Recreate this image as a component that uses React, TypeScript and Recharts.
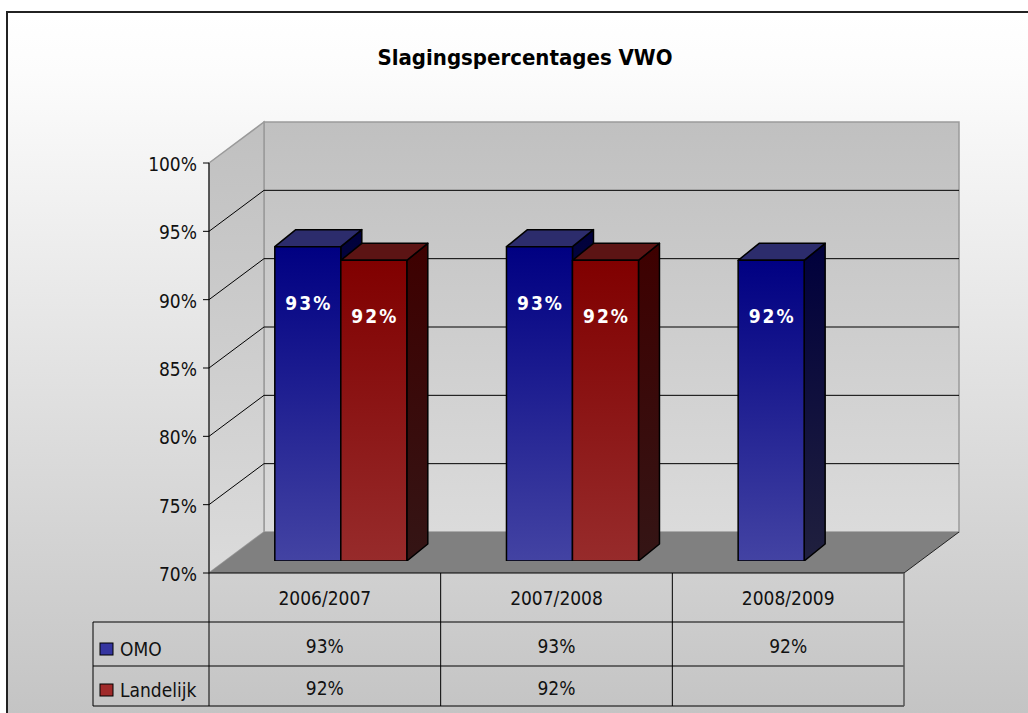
import React from 'react';
import { BarChart, Bar, XAxis, YAxis, ReferenceArea, LabelList } from 'recharts';

const categories = ['2006/2007', '2007/2008', '2008/2009'];
const omo: (number | null)[] = [93, 93, 92];
const landelijk: (number | null)[] = [92, 92, null];
const seriesNames = ['OMO', 'Landelijk'];
const yTicks = [70, 75, 80, 85, 90, 95, 100];
const title = 'Slagingspercentages VWO';

const data = categories.map((cat, i) => ({ cat, omo: omo[i], landelijk: landelijk[i] }));

const W = 1028;
const H = 713;
// plot area = plane in which the bar fronts stand
const MARGIN = { top: 151, right: 108, bottom: 152, left: 225 };
const PLOT_L = MARGIN.left;
const PLOT_R = W - MARGIN.right;
// 3d offsets, relative to the bar plane
const FRONT = { dx: -16, dy: 12 };
const BACK = { dx: 39, dy: -29 };
const DEPTH = { dx: 21, dy: -17 };
// data table rows
const TABLE = { row1: 622, row2: 666, bottom: 706, legendX: 93 };
const FONT = "'DejaVu Sans Condensed', 'DejaVu Sans', sans-serif";

const BLUE = { id: 'b', front: ['#000082', '#4343a3'], side: ['#00003c', '#20203e'], top: '#2c2c6c' };
const RED = { id: 'r', front: ['#800000', '#972b2b'], side: ['#3e0000', '#341515'], top: '#5c1414' };

const Walls = (p: any) => {
  const { x, y, width, height } = p;
  const fx0 = x + FRONT.dx, fx1 = x + width + FRONT.dx;
  const fyT = y + FRONT.dy, fyB = y + height + FRONT.dy;
  const bx0 = x + BACK.dx, bx1 = x + width + BACK.dx;
  const byT = y + BACK.dy, byB = y + height + BACK.dy;
  const colW = width / categories.length;
  return (
    <g>
      <defs>
        <linearGradient id="wallGrad" x1="0" y1="0" x2="0" y2="1">
          <stop offset="0%" stopColor="#c0c0c0" />
          <stop offset="100%" stopColor="#dbdbdb" />
        </linearGradient>
      </defs>
      <polygon points={`${bx0},${byT} ${bx1},${byT} ${bx1},${byB} ${bx0},${byB}`} fill="url(#wallGrad)" stroke="#9a9a9a" strokeWidth={1.5} />
      <polygon points={`${fx0},${fyT} ${bx0},${byT} ${bx0},${byB} ${fx0},${fyB}`} fill="url(#wallGrad)" stroke="#9a9a9a" strokeWidth={1.5} />
      <polygon points={`${fx0},${fyB} ${bx0},${byB} ${bx1},${byB} ${fx1},${fyB}`} fill="#808080" />
      <line x1={fx1} y1={fyB} x2={bx1} y2={byB} stroke="#222" />
      {/* value axis */}
      <line x1={fx0} y1={fyT} x2={fx0} y2={TABLE.bottom} stroke="#000" />
      {/* data table */}
      <line x1={fx0} y1={fyB} x2={fx1} y2={fyB} stroke="#000" />
      {[TABLE.row1, TABLE.row2, TABLE.bottom].map((ry) => (
        <line key={ry} x1={TABLE.legendX} y1={ry} x2={fx1} y2={ry} stroke="#000" />
      ))}
      <line x1={TABLE.legendX} y1={TABLE.row1} x2={TABLE.legendX} y2={TABLE.bottom} stroke="#000" />
      {categories.map((c, i) => (
        <line key={c} x1={fx0 + colW * (i + 1)} y1={fyB} x2={fx0 + colW * (i + 1)} y2={TABLE.bottom}
          stroke={i === categories.length - 1 ? '#555' : '#000'} strokeWidth={i === categories.length - 1 ? 1.5 : 1} />
      ))}
      {/* legend keys */}
      <rect x={100} y={643} width={13} height={12} fill="#3535a0" stroke="#000" />
      <text x={120} y={656} fontFamily={FONT} fontSize={19} fill="#111">{seriesNames[0]}</text>
      <rect x={100} y={684} width={13} height={12} fill="#a02a2a" stroke="#000" />
      <text x={120} y={697} fontFamily={FONT} fontSize={19} fill="#111">{seriesNames[1]}</text>
    </g>
  );
};

const YTick = (p: any) => {
  const { y, payload } = p;
  const v = payload.value;
  const fx = PLOT_L + FRONT.dx, fy = y + FRONT.dy;
  const bx0 = PLOT_L + BACK.dx, bx1 = PLOT_R + BACK.dx, by = y + BACK.dy;
  const inner = v !== yTicks[0] && v !== yTicks[yTicks.length - 1];
  return (
    <g>
      {inner && <line x1={fx} y1={fy} x2={bx0} y2={by} stroke="#000" />}
      {inner && <line x1={bx0} y1={by} x2={bx1} y2={by} stroke="#000" />}
      <line x1={fx - 6} y1={fy} x2={fx} y2={fy} stroke="#000" />
      <text x={fx - 12} y={fy + 8} textAnchor="end" fontFamily={FONT} fontSize={19} fill="#111">{`${v}%`}</text>
    </g>
  );
};

const TableTick = (p: any) => {
  const { x, payload } = p;
  const i = categories.indexOf(payload.value);
  const cx = x + FRONT.dx;
  const t = (val: number | null) => (val == null ? '' : `${val}%`);
  return (
    <g fontFamily={FONT} fontSize={19} fill="#111" textAnchor="middle">
      <text x={cx} y={605}>{payload.value}</text>
      <text x={cx} y={653}>{t(omo[i])}</text>
      <text x={cx} y={695}>{t(landelijk[i])}</text>
    </g>
  );
};

const Prism = (p: any) => {
  const { x, y, width, height, pal } = p;
  if (x == null || y == null || !width || !height) return null;
  const { dx, dy } = DEPTH;
  const x1 = x + width, y1 = y + height;
  return (
    <g stroke="#000" strokeWidth={1.5} strokeLinejoin="round">
      <defs>
        <linearGradient id={`front-${pal.id}`} x1="0" y1="0" x2="0" y2="1">
          <stop offset="0%" stopColor={pal.front[0]} />
          <stop offset="100%" stopColor={pal.front[1]} />
        </linearGradient>
        <linearGradient id={`side-${pal.id}`} x1="0" y1="0" x2="0" y2="1">
          <stop offset="0%" stopColor={pal.side[0]} />
          <stop offset="100%" stopColor={pal.side[1]} />
        </linearGradient>
      </defs>
      <polygon points={`${x1},${y} ${x1 + dx},${y + dy} ${x1 + dx},${y1 + dy} ${x1},${y1}`} fill={`url(#side-${pal.id})`} />
      <polygon points={`${x},${y} ${x + dx},${y + dy} ${x1 + dx},${y + dy} ${x1},${y}`} fill={pal.top} />
      <rect x={x} y={y} width={width} height={height} fill={`url(#front-${pal.id})`} />
    </g>
  );
};

const BarLabel = (p: any) => {
  const vb = p.viewBox || p;
  if (p.value == null) return null;
  const x = vb.x ?? p.x, y = vb.y ?? p.y, w = vb.width ?? p.width;
  return (
    <text x={x + w / 2 + 1} y={y + 63} textAnchor="middle" fill="#fff" fontFamily={FONT} fontWeight="bold"
      fontSize={19} letterSpacing={2}>{`${p.value}%`}</text>
  );
};

const layer: React.CSSProperties = { position: 'absolute', left: 0, top: 0 };

export default function App() {
  return (
    <div style={{ position: 'absolute', left: 0, top: 0, width: W, height: H, overflow: 'hidden' }}>
      <div style={{
        position: 'absolute', left: 6, top: 11, width: 1100, height: 800,
        borderLeft: '2px solid #222', borderTop: '2px solid #222',
        background: 'linear-gradient(to bottom, #ffffff 0px, #fcfcfc 60px, #c4c4c4 700px)',
      }} />
      <svg width={W} height={H} style={layer}>
        <text x={525} y={65} textAnchor="middle" fontFamily={FONT} fontWeight="bold" fontSize={22} fill="#000">{title}</text>
      </svg>
      <div style={layer}>
        <BarChart width={W} height={H} data={data} margin={MARGIN}>
          <XAxis dataKey="cat" hide />
          <YAxis domain={[70, 100]} hide allowDataOverflow />
          <Bar dataKey="omo" fill="none" isAnimationActive={false} />
          <ReferenceArea y1={70} y2={100} ifOverflow="visible" shape={(p: any) => <Walls {...p} />} />
        </BarChart>
      </div>
      <div style={layer}>
        <BarChart width={W} height={H} data={data}
          margin={{ top: MARGIN.top, right: MARGIN.right, bottom: MARGIN.bottom - 30, left: MARGIN.left - 60 }}>
          <XAxis dataKey="cat" height={30} axisLine={false} tickLine={false} interval={0} tick={(p: any) => <TableTick {...p} />} />
          <YAxis domain={[70, 100]} ticks={yTicks} width={60} axisLine={false} tickLine={false} interval={0}
            allowDataOverflow tick={(p: any) => <YTick {...p} />} />
          <Bar dataKey="omo" fill="none" isAnimationActive={false} />
        </BarChart>
      </div>
      <div style={layer}>
        <BarChart width={W} height={H} data={data} margin={MARGIN} barCategoryGap="21.5%" barGap={0}>
          <XAxis dataKey="cat" hide />
          <YAxis domain={[70, 100]} hide allowDataOverflow />
          <Bar dataKey="omo" isAnimationActive={false} shape={(p: any) => <Prism {...p} pal={BLUE} />}>
            <LabelList dataKey="omo" content={(p: any) => <BarLabel {...p} />} />
          </Bar>
          <Bar dataKey="landelijk" isAnimationActive={false} shape={(p: any) => <Prism {...p} pal={RED} />}>
            <LabelList dataKey="landelijk" content={(p: any) => <BarLabel {...p} />} />
          </Bar>
        </BarChart>
      </div>
    </div>
  );
}
